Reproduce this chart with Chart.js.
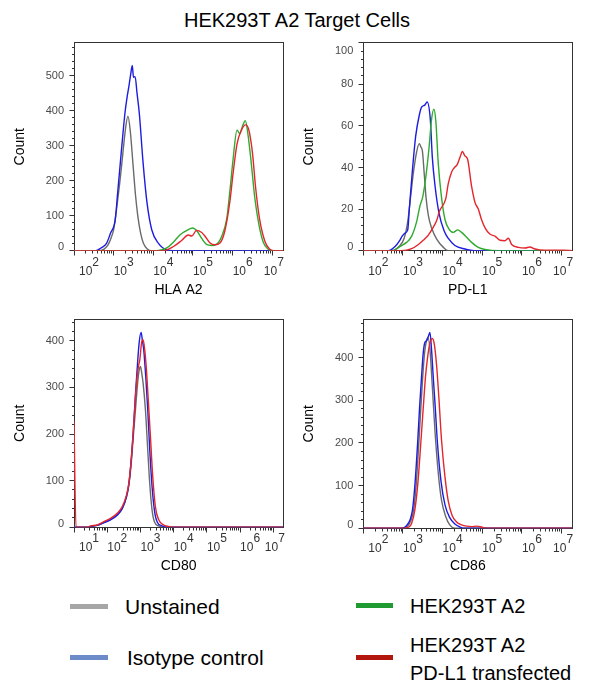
<!DOCTYPE html>
<html>
<head>
<meta charset="utf-8">
<title>HEK293T A2 Target Cells</title>
<script src="https://cdn.jsdelivr.net/npm/chart.js@4.4.1/dist/chart.umd.min.js"></script>
<style>
    html, body { margin: 0; padding: 0; background: #fff; }
    body {
        position: relative;
        width: 595px;
        height: 682px;
        overflow: hidden;
        font-family: "Liberation Sans", Arial, sans-serif;
        color: #000;
    }
    .panel { position: absolute; }
    #title {
        position: absolute; left: 184px; top: 8px;
        font-size: 20px; line-height: 24px; white-space: nowrap;
    }
    .swatch { position: absolute; height: 5px; }
    .legend-text { position: absolute; white-space: nowrap; }
    .legend-left { font-size: 21px; line-height: 24px; }
    .legend-right { font-size: 20px; line-height: 24px; }
    .legend-two { font-size: 20px; line-height: 28px; }
</style>
</head>
<body>
<div id="title">HEK293T A2 Target Cells</div>

<div class="swatch" style="left:70px; top:604px; width:38px; background:#a6a6a6"></div>
<div class="legend-text legend-left" style="left:125px; top:595px">Unstained</div>
<div class="swatch" style="left:70px; top:655px; width:38px; background:#6d8bc8"></div>
<div class="legend-text legend-left" style="left:127px; top:646px">Isotype control</div>
<div class="swatch" style="left:356px; top:603px; width:37px; background:#1f9a30"></div>
<div class="legend-text legend-right" style="left:410px; top:594px">HEK293T A2</div>
<div class="swatch" style="left:356px; top:655px; width:37px; background:#b3160c"></div>
<div class="legend-text legend-two" style="left:410px; top:631px">HEK293T A2<br>PD-L1 transfected</div>

<script>
// Series shared by all four histograms
const seriesNames = ['Unstained', 'Isotype control', 'HEK293T A2', 'HEK293T A2 PD-L1 transfected'];
const lineColors = ['#6a6a6a', '#1c1ce0', '#2eaa2e', '#e3262c'];

// x values are log10 of fluorescence intensity, y values are counts

// HLA A2
const hlaUnstainedX = [2.0, 2.6, 2.75, 2.85, 2.93, 3.0, 3.08, 3.15, 3.21, 3.3, 3.36, 3.42, 3.49, 3.55, 3.61, 3.68, 3.75, 3.85, 3.95, 7.27];
const hlaUnstainedY = [0, 0, 4, 15, 35, 60, 125, 190, 254, 350, 385, 341, 244, 160, 98, 50, 21, 5, 0, 0];
const hlaIsotypeX = [2.0, 2.55, 2.67, 2.82, 2.92, 3.04, 3.1, 3.17, 3.23, 3.29, 3.34, 3.38, 3.43, 3.47, 3.5, 3.54, 3.59, 3.65, 3.74, 3.84, 3.96, 4.13, 4.34, 4.5, 7.27];
const hlaIsotypeY = [0, 0, 7, 21, 50, 89, 165, 254, 330, 399, 440, 467, 505, 530, 496, 498, 450, 389, 254, 138, 60, 21, 2, 0, 0];
const hlaA2X = [2.0, 4.09, 4.34, 4.51, 4.67, 4.8, 4.99, 5.11, 5.22, 5.34, 5.47, 5.59, 5.72, 5.85, 5.93, 6.01, 6.11, 6.18, 6.26, 6.32, 6.39, 6.47, 6.56, 6.67, 6.77, 6.89, 7.02, 7.27];
const hlaA2Y = [0, 0, 8, 25, 45, 55, 65, 55, 35, 18, 15, 18, 40, 90, 170, 260, 345, 335, 360, 372, 330, 250, 150, 70, 25, 5, 0, 0];
const hlaPdl1X = [2.0, 4.26, 4.51, 4.72, 4.88, 4.97, 5.09, 5.22, 5.3, 5.43, 5.55, 5.68, 5.8, 5.93, 6.01, 6.11, 6.22, 6.33, 6.41, 6.5, 6.58, 6.68, 6.81, 6.93, 7.06, 7.27];
const hlaPdl1Y = [0, 0, 12, 30, 45, 42, 58, 52, 42, 22, 17, 22, 55, 140, 220, 305, 345, 360, 345, 280, 180, 90, 28, 5, 0, 0];

// PD-L1
const pdl1UnstainedX = [2.0, 2.7, 2.9, 3.03, 3.12, 3.2, 3.26, 3.33, 3.41, 3.45, 3.49, 3.54, 3.58, 3.64, 3.72, 3.85, 4.02, 4.14, 7.27];
const pdl1UnstainedY = [0, 0, 2, 6, 14, 27, 37, 46, 51.5, 50, 48, 36, 26, 17, 11, 5.6, 1.6, 0, 0];
const pdl1IsotypeX = [2.0, 2.63, 2.8, 2.92, 2.98, 3.05, 3.12, 3.16, 3.24, 3.32, 3.41, 3.47, 3.55, 3.61, 3.69, 3.74, 3.81, 3.91, 4.04, 4.14, 4.31, 4.56, 4.8, 7.27];
const pdl1IsotypeY = [0, 0, 2, 5, 7, 8.5, 10, 20, 39, 55, 65, 69, 70, 71.5, 63, 45, 31, 18, 9.5, 6, 2.5, 0.8, 0, 0];
const pdl1A2X = [2.0, 2.75, 2.92, 3.09, 3.22, 3.34, 3.43, 3.5, 3.58, 3.66, 3.72, 3.78, 3.83, 3.89, 3.97, 4.06, 4.16, 4.27, 4.38, 4.48, 4.61, 4.73, 4.9, 5.07, 5.4, 7.27];
const pdl1A2Y = [0, 0, 2, 4, 7, 13.6, 21.6, 26, 36, 50, 63, 68, 62, 42, 26, 15, 10.4, 8.8, 10, 8.8, 6.4, 4, 1.6, 0.6, 0, 0];
const pdl1Pdl1X = [2.0, 2.97, 3.22, 3.39, 3.51, 3.64, 3.74, 3.85, 3.92, 4.08, 4.14, 4.23, 4.3, 4.37, 4.44, 4.5, 4.56, 4.63, 4.73, 4.82, 4.9, 4.98, 5.07, 5.19, 5.32, 5.45, 5.57, 5.66, 5.74, 5.91, 6.08, 6.2, 6.33, 6.58, 7.05, 7.27];
const pdl1Pdl1Y = [0, 0, 1, 3, 5, 7.5, 10.5, 14.5, 19, 25, 32, 38, 40, 41.5, 45, 47.7, 45.6, 44, 31, 23, 20, 15, 11, 8, 7, 5, 4.8, 6, 3, 1.6, 1.3, 1.8, 0.8, 0.2, 0.2, 0];

// CD80
const cd80UnstainedX = [1.0, 1.4, 1.5, 1.7, 1.9, 2.1, 2.3, 2.45, 2.58, 2.65, 2.72, 2.78, 2.85, 2.92, 2.97, 3.0, 3.04, 3.08, 3.15, 3.22, 3.28, 3.35, 3.42, 3.55, 3.7, 7.3];
const cd80UnstainedY = [0, 0, 2, 4, 10, 17, 27, 40, 65, 90, 135, 190, 252, 313, 340, 345, 330, 309, 252, 166, 94, 37, 12, 3, 0, 0];
const cd80IsotypeX = [1.0, 1.4, 1.5, 1.7, 1.9, 2.1, 2.3, 2.45, 2.58, 2.65, 2.72, 2.78, 2.85, 2.9, 2.96, 3.02, 3.06, 3.1, 3.16, 3.22, 3.28, 3.35, 3.42, 3.5, 3.65, 3.8, 7.3];
const cd80IsotypeY = [0, 0, 2, 4, 10, 16, 26, 40, 66, 92, 142, 200, 285, 338, 395, 418, 400, 380, 323, 252, 166, 87, 37, 12, 3, 0, 0];
const cd80Pdl1X = [1.0, 1.06, 1.4, 1.5, 1.7, 1.9, 2.1, 2.3, 2.45, 2.58, 2.65, 2.72, 2.78, 2.85, 2.9, 2.94, 2.98, 3.04, 3.08, 3.13, 3.18, 3.23, 3.3, 3.37, 3.45, 3.55, 3.7, 3.9, 4.0, 7.3];
const cd80Pdl1Y = [227, 0, 0, 3, 5, 12, 19, 30, 44, 69, 94, 144, 202, 280, 323, 345, 359, 398, 402, 380, 338, 280, 195, 109, 44, 16, 5, 1, 0, 0];

// CD86
const cd86UnstainedX = [2.0, 3.0, 3.12, 3.2, 3.27, 3.34, 3.4, 3.45, 3.5, 3.55, 3.6, 3.63, 3.68, 3.74, 3.81, 3.89, 3.97, 4.08, 4.18, 4.31, 7.27];
const cd86UnstainedY = [0, 0, 5, 18, 43, 110, 200, 280, 357, 415, 442, 447, 420, 333, 224, 130, 67, 27, 8, 0, 0];
const cd86IsotypeX = [2.0, 2.97, 3.09, 3.18, 3.24, 3.3, 3.37, 3.42, 3.47, 3.51, 3.55, 3.6, 3.64, 3.68, 3.72, 3.76, 3.81, 3.87, 3.96, 4.06, 4.18, 4.31, 4.44, 4.56, 7.27];
const cd86IsotypeY = [0, 0, 6, 20, 43, 100, 200, 285, 357, 410, 435, 440, 450, 459, 420, 360, 290, 200, 110, 55, 25, 10, 3, 0, 0];
const cd86Pdl1X = [2.0, 3.05, 3.15, 3.22, 3.3, 3.38, 3.45, 3.51, 3.57, 3.62, 3.67, 3.74, 3.79, 3.85, 3.91, 3.97, 4.06, 4.14, 4.24, 4.35, 4.48, 4.61, 4.73, 4.86, 4.98, 5.11, 7.27];
const cd86Pdl1Y = [0, 0, 3, 12, 43, 110, 200, 280, 357, 400, 430, 445, 432, 380, 300, 210, 120, 65, 30, 15, 8, 5, 4, 5, 3, 0, 0];

const FONT = '"Liberation Sans", Arial, sans-serif';

// box = canvas [left, top, width, height], area = plot box [left, top, right, bottom]
const panels = [
    {
        xTitle: 'HLA A2', xMin: 2, xMax: 7.27, yMax: 595, yStep: 100, yMinor: 20,
        box: [0, 36, 295, 270], area: [74, 42.7, 283, 250.7], yTitleX: 20, xTitleY: 290,
        series: [[hlaUnstainedX, hlaUnstainedY], [hlaIsotypeX, hlaIsotypeY], [hlaA2X, hlaA2Y], [hlaPdl1X, hlaPdl1Y]]
    },
    {
        xTitle: 'PD-L1', xMin: 2, xMax: 7.27, yMax: 100, yStep: 20, yMinor: 4,
        box: [295, 36, 300, 270], area: [363.3, 42.7, 572.3, 250.7], yTitleX: 309, xTitleY: 290,
        series: [[pdl1UnstainedX, pdl1UnstainedY], [pdl1IsotypeX, pdl1IsotypeY], [pdl1A2X, pdl1A2Y], [pdl1Pdl1X, pdl1Pdl1Y]]
    },
    {
        xTitle: 'CD80', xMin: 1, xMax: 7.3, yMax: 446, yStep: 100, yMinor: 20,
        box: [0, 312, 295, 275], area: [74, 319.3, 283.3, 527.3], yTitleX: 20, xTitleY: 566.5,
        series: [[cd80UnstainedX, cd80UnstainedY], [cd80IsotypeX, cd80IsotypeY], null, [cd80Pdl1X, cd80Pdl1Y]]
    },
    {
        xTitle: 'CD86', xMin: 2, xMax: 7.27, yMax: 490, yStep: 100, yMinor: 20,
        box: [295, 312, 300, 275], area: [363.3, 319.3, 572.3, 528.3], yTitleX: 309, xTitleY: 566.5,
        series: [[cd86UnstainedX, cd86UnstainedY], [cd86IsotypeX, cd86IsotypeY], null, [cd86Pdl1X, cd86Pdl1Y]]
    }
];

function buildPanel(p) {
    const [bx, by, bw, bh] = p.box;
    const [al, at, ar, ab] = p.area;

    const canvas = document.createElement('canvas');
    canvas.className = 'panel';
    canvas.width = bw;
    canvas.height = bh;
    canvas.style.left = bx + 'px';
    canvas.style.top = by + 'px';
    document.body.appendChild(canvas);

    const datasets = [];
    p.series.forEach((s, i) => {
        if (!s) return;
        datasets.push({
            label: seriesNames[i],
            data: s[0].map((x, j) => ({ x: x, y: s[1][j] })),
            borderColor: lineColors[i],
            borderWidth: 1.4,
            pointRadius: 0,
            cubicInterpolationMode: 'monotone',
            order: 3 - i
        });
    });

    // end labels are pulled inside the plot box, like the cytometry software does
    const xUnit = (p.xMax - p.xMin) / (ar - al);
    const yUnit = p.yMax / (ab - at);

    // plot frame plus log minor ticks on x and minor ticks on y
    const frame = {
        id: 'frame',
        beforeDatasetsDraw(chart) {
            const { ctx, chartArea: a, scales: { x, y } } = chart;
            const L = Math.floor(a.left) + 0.5;
            const R = Math.floor(a.right) + 0.5;
            const T = Math.floor(a.top) + 0.5;
            const B = Math.floor(a.bottom) + 0.5;
            ctx.save();
            ctx.strokeStyle = '#333';
            ctx.lineWidth = 1;
            ctx.strokeRect(L, T, R - L, B - T);
            ctx.beginPath();
            for (let n = Math.floor(x.min); n <= Math.ceil(x.max); n++) {
                for (let k = 1; k < 10; k++) {
                    const v = n + Math.log10(k);
                    if (v < x.min - 1e-6 || v > x.max + 1e-6) continue;
                    const px = Math.floor(x.getPixelForValue(v)) + 0.5;
                    ctx.moveTo(px, B);
                    ctx.lineTo(px, B + (k === 1 ? 5 : 3));
                }
            }
            for (let v = 0; v <= y.max + 1e-6; v += p.yMinor) {
                const py = Math.floor(y.getPixelForValue(v)) + 0.5;
                const major = Math.abs(v / p.yStep - Math.round(v / p.yStep)) < 1e-6;
                ctx.moveTo(L, py);
                ctx.lineTo(L - (major ? 5 : 2.5), py);
            }
            ctx.stroke();
            ctx.restore();
        }
    };

    // keep the plot box where the canvas layout puts it
    const noPadding = (axis) => {
        axis.paddingTop = 0;
        axis.paddingBottom = 0;
        axis.paddingLeft = 0;
        axis.paddingRight = 0;
    };

    new Chart(canvas, {
        type: 'line',
        data: { datasets: datasets },
        options: {
            responsive: false,
            animation: false,
            events: [],
            layout: { padding: { left: 0, bottom: 0, top: at - by, right: bx + bw - ar } },
            plugins: { legend: { display: false }, tooltip: { enabled: false } },
            scales: {
                x: {
                    type: 'linear',
                    min: p.xMin,
                    max: p.xMax,
                    grid: { display: false, drawTicks: false },
                    border: { display: false },
                    ticks: {
                        autoSkip: false,
                        maxRotation: 0,
                        align: 'start',
                        padding: 7,
                        color: '#333',
                        font: { family: FONT, size: 12, lineHeight: 0.75 },
                        callback: (v) => ['    ' + Math.round(v), '10']
                    },
                    afterBuildTicks: (axis) => {
                        const first = Math.ceil(p.xMin - 1e-6);
                        const last = Math.floor(p.xMax + 1e-6);
                        const ticks = [];
                        for (let n = first; n <= last; n++) {
                            let v = n;
                            if (n === first) v += 5 * xUnit;
                            if (n === last) v -= 8.5 * xUnit;
                            ticks.push({ value: v });
                        }
                        axis.ticks = ticks;
                    },
                    afterFit: (axis) => {
                        axis.height = by + bh - ab;
                        noPadding(axis);
                    },
                    title: {
                        display: true,
                        text: p.xTitle,
                        color: '#000',
                        font: { family: FONT, size: 14 },
                        padding: { top: 0, bottom: by + bh - p.xTitleY - 8.4 }
                    }
                },
                y: {
                    min: 0,
                    max: p.yMax,
                    grid: { display: false, drawTicks: false },
                    border: { display: false },
                    ticks: {
                        autoSkip: false,
                        padding: 10,
                        color: '#4a4a4a',
                        font: { family: FONT, size: 11 },
                        callback: (v) => Math.round(v / p.yStep) * p.yStep
                    },
                    afterBuildTicks: (axis) => {
                        const ticks = [];
                        for (let v = 0; v <= p.yMax + 1e-6; v += p.yStep) {
                            let pos = v;
                            if (v === 0) pos += 3.5 * yUnit;
                            if (Math.abs(v - p.yMax) < 1e-6) pos -= 8 * yUnit;
                            ticks.push({ value: pos });
                        }
                        axis.ticks = ticks;
                    },
                    afterFit: (axis) => {
                        axis.width = al - bx;
                        noPadding(axis);
                    },
                    title: {
                        display: true,
                        text: 'Count',
                        color: '#000',
                        font: { family: FONT, size: 14 },
                        padding: { top: p.yTitleX - bx - 8.4, bottom: 0 }
                    }
                }
            }
        },
        plugins: [frame]
    });
}

panels.forEach(buildPanel);
</script>
</body>
</html>
